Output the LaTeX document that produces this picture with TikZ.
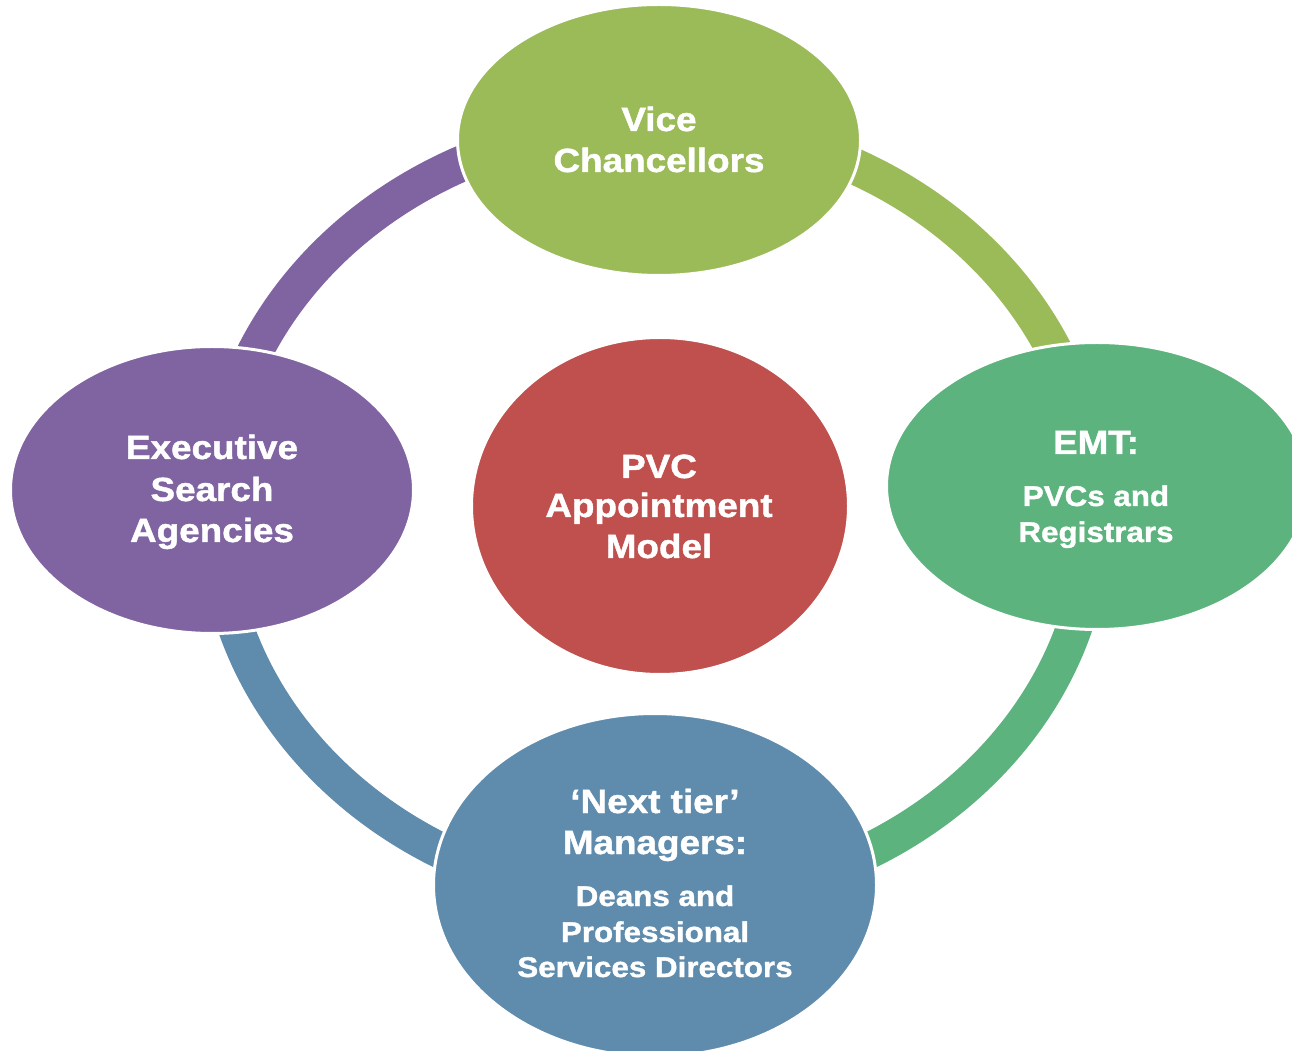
\documentclass[tikz,border=0pt]{standalone}
\usepackage{fontspec}
\newfontfamily\dfont[FakeStretch=1.1,BoldFeatures={FakeBold=1.3}]{Liberation Sans}
\usetikzlibrary{shapes.geometric}
\definecolor{cvc}{HTML}{9BBB59}
\definecolor{cemt}{HTML}{5DB37E}
\definecolor{cnext}{HTML}{5F8CAD}
\definecolor{cexec}{HTML}{8064A2}
\definecolor{cpvc}{HTML}{C0504D}
\tikzset{
  blob/.style={ellipse, draw=white, line width=3pt, inner sep=0pt, outer sep=0pt},
  ringarc/.style={line width=36pt},
  head/.style={text=white, font=\dfont\bfseries\fontsize{33.5}{40}\selectfont, anchor=base, inner sep=0pt},
  subt/.style={text=white, font=\dfont\bfseries\fontsize{28.5}{34}\selectfont, anchor=base, inner sep=0pt},
}
\begin{document}
\begin{tikzpicture}[x=1pt,y=1pt]
\clip (0,0) rectangle (1292,1050);
\fill[white] (0,0) rectangle (1292,1050);
\coordinate (ring) at (655,538);
% ring segments
\draw[ringarc, cvc] ([shift={(90:439pt and 388pt)}]ring) arc[start angle=90, end angle=0, x radius=439pt, y radius=388pt];
\draw[ringarc, cemt] ([shift={(0:439pt and 388pt)}]ring) arc[start angle=0, end angle=-90, x radius=439pt, y radius=388pt];
\draw[ringarc, cnext] ([shift={(-90:439pt and 388pt)}]ring) arc[start angle=-90, end angle=-180, x radius=439pt, y radius=388pt];
\draw[ringarc, cexec] ([shift={(180:439pt and 388pt)}]ring) arc[start angle=180, end angle=90, x radius=439pt, y radius=388pt];
% ellipses
\node[blob, fill=cvc, minimum width=403pt, minimum height=271pt] (vc) at (659,910) {};
\node[blob, fill=cemt, minimum width=421pt, minimum height=287pt] (emt) at (1097,564) {};
\node[blob, fill=cnext, minimum width=443pt, minimum height=343pt] (next) at (655,165) {};
\node[blob, fill=cexec, minimum width=403pt, minimum height=287pt] (exec) at (212,560) {};
\node[blob, fill=cpvc, minimum width=377pt, minimum height=337pt] (pvc) at (660,544) {};
% texts
\node[head] (vc1) at (659,919) {Vice};
\node[head] (vc2) at (659,878) {Chancellors};
\node[head] (pvc1) at (659,572) {PVC};
\node[head] (pvc2) at (659,533) {Appointment};
\node[head] (pvc3) at (659,492) {Model};
\node[head] (ex1) at (212,591) {Executive};
\node[head] (ex2) at (212,549) {Search};
\node[head] (ex3) at (212,508) {Agencies};
\node[head] (emt1) at (1096,596) {EMT:};
\node[subt] (emt2) at (1096,544) {PVCs and};
\node[subt] (emt3) at (1096,508) {Registrars};
\node[head] (nx1) at (655,237) {‘Next tier’};
\node[head] (nx2) at (655,196) {Managers:};
\node[subt] (nx3) at (655,144) {Deans and};
\node[subt] (nx4) at (655,108) {Professional};
\node[subt] (nx5) at (655,73) {Services Directors};
\end{tikzpicture}
\end{document}
